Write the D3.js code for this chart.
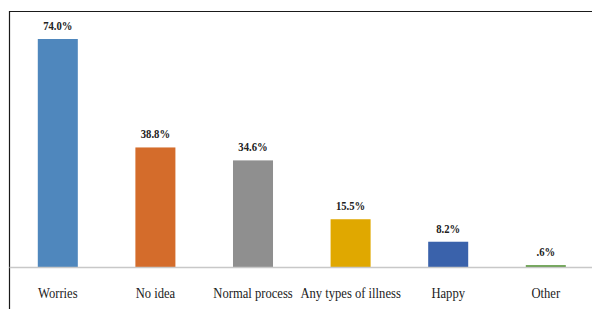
<!DOCTYPE html>
<html>
<head>
<meta charset="utf-8">
<script src="https://cdn.jsdelivr.net/npm/d3@7"></script>
<style>
  body { margin: 0; background: #fff; }
</style>
</head>
<body>
<svg id="chart" width="592" height="309"></svg>
<script>
let categories = ['Worries', 'No idea', 'Normal process', 'Any types of illness', 'Happy', 'Other']
let percents = [74.0, 38.8, 34.6, 15.5, 8.2, 0.6]
let valueLabels = ['74.0%', '38.8%', '34.6%', '15.5%', '8.2%', '.6%']
let barColors = ['#4f87bd', '#d46c2b', '#8f8f8f', '#e0a800', '#3a62ab', '#5f9a43']

let svg = d3.select('#chart')

let baseline = 267
let x = d3.scaleBand()
    .domain(categories)
    .range([9, 594.6])
    .paddingInner(0.59)
    .paddingOuter(0.295)

let y = d3.scaleLinear()
    .domain([0, 74])
    .range([baseline, 39])

// frame: top and left edges
svg.append('line')
    .attr('x1', 9).attr('x2', 592)
    .attr('y1', 11.5).attr('y2', 11.5)
    .attr('stroke', '#1a1a1a').attr('stroke-width', 1.2)
svg.append('line')
    .attr('x1', 9.5).attr('x2', 9.5)
    .attr('y1', 11).attr('y2', 309)
    .attr('stroke', '#1a1a1a').attr('stroke-width', 1.2)

svg.selectAll('rect.bar')
    .data(percents)
    .enter()
    .append('rect')
    .attr('class', 'bar')
    .attr('x', (d, i) => x(categories[i]))
    .attr('y', d => y(d))
    .attr('width', x.bandwidth())
    .attr('height', d => baseline - y(d))
    .attr('fill', (d, i) => barColors[i])

// x axis line
let xAxis = d3.axisBottom(x).tickSize(0).tickPadding(0).tickFormat('')
let axisG = svg.append('g')
    .attr('transform', `translate(0, ${baseline})`)
    .call(xAxis)
axisG.select('.domain')
    .attr('d', 'M9.5,0.5H592')
    .attr('stroke', '#c8c8c8')
    .attr('stroke-width', 1.3)

// condensed look of the original fonts
let squeeze = (sel, k) => sel.each(function () {
    let w = this.getComputedTextLength()
    d3.select(this).attr('textLength', w * k).attr('lengthAdjust', 'spacingAndGlyphs')
})

svg.selectAll('text.cat')
    .data(categories)
    .enter()
    .append('text')
    .attr('class', 'cat')
    .attr('x', d => x(d) + x.bandwidth() / 2)
    .attr('y', 298)
    .attr('text-anchor', 'middle')
    .style('font-family', "'Liberation Serif'")
    .style('font-size', '15px')
    .attr('fill', '#222')
    .text(d => d)
    .call(squeeze, 0.84)

svg.selectAll('text.val')
    .data(percents)
    .enter()
    .append('text')
    .attr('class', 'val')
    .attr('x', (d, i) => x(categories[i]) + x.bandwidth() / 2)
    .attr('y', d => y(d) - 9)
    .attr('text-anchor', 'middle')
    .style('font-family', "'Liberation Serif'")
    .style('font-weight', 'bold')
    .style('font-size', '13px')
    .attr('fill', '#222')
    .text((d, i) => valueLabels[i])
    .call(squeeze, 0.82)
</script>
</body>
</html>
